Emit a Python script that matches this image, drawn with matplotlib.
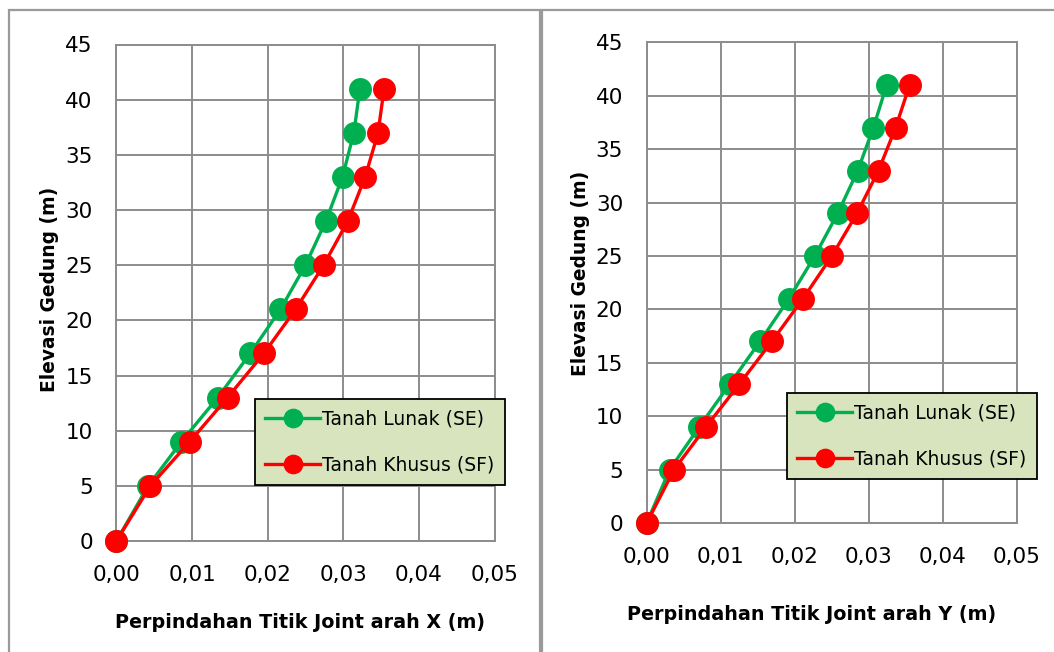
import matplotlib
matplotlib.use("Agg")
import matplotlib.pyplot as plt
import matplotlib.patches as patches
from matplotlib.ticker import FuncFormatter, MultipleLocator

# ----------------------------
# Data
# ----------------------------

elevasi = [0, 5, 9, 13, 17, 21, 25, 29, 33, 37, 41]

x_lunak = [0.0, 0.0042, 0.0086, 0.0134, 0.0177, 0.0217, 0.0250, 0.0277, 0.0299, 0.0314, 0.0322]
x_khusus = [0.0, 0.0045, 0.0097, 0.0147, 0.0195, 0.0237, 0.0274, 0.0306, 0.0329, 0.0346, 0.0354]

y_lunak = [0.0, 0.0031, 0.0071, 0.0112, 0.0153, 0.0192, 0.0227, 0.0258, 0.0285, 0.0306, 0.0324]
y_khusus = [0.0, 0.0037, 0.0080, 0.0125, 0.0169, 0.0211, 0.0250, 0.0284, 0.0313, 0.0336, 0.0355]

label_lunak = "Tanah Lunak (SE)"
label_khusus = "Tanah Khusus (SF)"
ylabel = "Elevasi Gedung (m)"
xlabels = ["Perpindahan Titik Joint arah X (m)", "Perpindahan Titik Joint arah Y (m)"]

GREEN = "#00B050"
RED = "#FF0000"
GRID = "#8C8C8C"

plt.rcParams["font.family"] = ["DejaVu Sans"]

fig = plt.figure(figsize=(10.54, 6.52), dpi=100)

# panel borders (two chart boxes side by side)
fig.patches.append(patches.Rectangle((9 / 1054, -0.05), (540 - 9) / 1054, 1 - 10 / 652 + 0.05,
                                     transform=fig.transFigure, fill=False,
                                     edgecolor="#9A9A9A", linewidth=1.6))
fig.patches.append(patches.Rectangle((542 / 1054, -0.05), 0.6, 1 - 10 / 652 + 0.05,
                                     transform=fig.transFigure, fill=False,
                                     edgecolor="#9A9A9A", linewidth=1.6))

axes_pos = [
    [116.4 / 1054, 1 - 541 / 652, (494.5 - 116.4) / 1054, (541 - 44.5) / 652],
    [646.7 / 1054, 1 - 523 / 652, (1017 - 646.7) / 1054, (523 - 42.4) / 652],
]
legend_pos = [(255 / 1054, 1 - 399 / 652), (787 / 1054, 1 - 393 / 652)]
xlabel_xy = [(300 / 1054, 1 - 623 / 652), (812 / 1054, 1 - 615 / 652)]
ylabel_xy = [(50 / 1054, 1 - 289 / 652), (580 / 1054, 1 - 273 / 652)]

series = [(x_lunak, x_khusus), (y_lunak, y_khusus)]

comma = FuncFormatter(lambda v, p: f"{v:.2f}".replace(".", ","))

for i in range(2):
    ax = fig.add_axes(axes_pos[i])
    lun, khu = series[i]
    ax.plot(lun, elevasi, color=GREEN, lw=2.4, marker="o", ms=15.5, label=label_lunak, zorder=3)
    ax.plot(khu, elevasi, color=RED, lw=2.4, marker="o", ms=15.5, label=label_khusus, zorder=4)

    ax.set_xlim(0, 0.05)
    ax.set_ylim(0, 45)
    ax.xaxis.set_major_locator(MultipleLocator(0.01))
    ax.yaxis.set_major_locator(MultipleLocator(5))
    ax.xaxis.set_major_formatter(comma)
    ax.grid(True, color=GRID, lw=1.4, zorder=0)
    ax.set_axisbelow(True)
    for s in ax.spines.values():
        s.set_color(GRID)
        s.set_linewidth(1.4)
    ax.tick_params(length=0, labelsize=15.5, pad=17)

    # markers allowed outside axes (point at origin)
    for ln in ax.get_lines():
        ln.set_clip_on(False)

    fig.text(xlabel_xy[i][0], xlabel_xy[i][1], xlabels[i],
             ha="center", va="center", fontsize=13.8, fontweight="bold")
    fig.text(ylabel_xy[i][0], ylabel_xy[i][1], ylabel,
             ha="center", va="center", rotation=90, fontsize=13.4, fontweight="bold")

    leg = ax.legend(loc="upper left", bbox_to_anchor=legend_pos[i], bbox_transform=fig.transFigure,
                    borderaxespad=0, fontsize=13.5, frameon=True, fancybox=False,
                    handlelength=2.9, labelspacing=1.45, handletextpad=0.15, borderpad=0.55,
                    markerscale=0.85)
    leg.get_frame().set_facecolor("#D7E4BD")
    leg.get_frame().set_edgecolor("black")
    leg.get_frame().set_linewidth(1.3)
    leg.get_frame().set_alpha(1)
    leg.set_zorder(10)

plt.savefig("out.png", dpi=100)
